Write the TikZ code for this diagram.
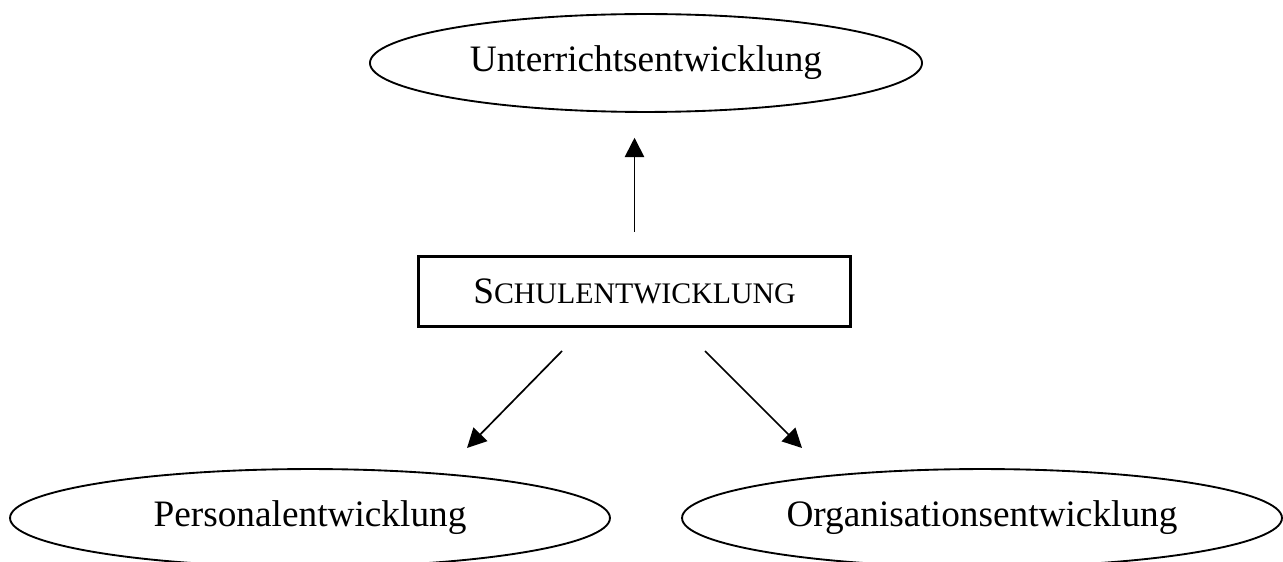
\documentclass[tikz,border=0pt]{standalone}
\usepackage{fontspec}
\setmainfont{Liberation Serif}
\usetikzlibrary{shapes.geometric,arrows.meta}
\newcommand{\kapitaelchen}[2]{#1{\fontsize{9.6pt}{11pt}\selectfont #2}}

\begin{document}
\begin{tikzpicture}[x=0.3217pt,y=-0.3217pt,font=\fontsize{12pt}{14pt}\selectfont]

      \useasboundingbox (0,0) rectangle (1283,562);

      \begin{scope}[every node/.style={ellipse,draw,line width=.6pt,inner sep=0pt,minimum height=31.5pt}]
        \node[minimum width=177.6pt] (unt)  at (646,63)  {Unterrichtsentwicklung};
        \node[minimum width=193pt]   (pers) at (310,518) {Personalentwicklung};
        \node[minimum width=193pt]   (org)  at (982,518) {Organisationsentwicklung};
      \end{scope}

      \node[draw,line width=1.1pt,inner sep=0pt,minimum width=139pt,minimum height=22.4pt] (schul) at (634.5,291.5) {\kapitaelchen{S}{CHULENTWICKLUNG}};

      \coordinate (ls) at (562,351);
      \coordinate (le) at (467,448);
      \coordinate (rs) at (705,351);
      \coordinate (re) at (802,448);

      \begin{scope}[every edge/.style={draw,line width=.55pt,-{Triangle[length=6.2pt,width=6.2pt]}}]
        \path (schul.north) edge[shorten <=7.4pt,shorten >=8pt] (schul.north |- unt.south);
        \path (ls) edge (le);
        \path (rs) edge (re);
      \end{scope}

    \end{tikzpicture}
\end{document}
